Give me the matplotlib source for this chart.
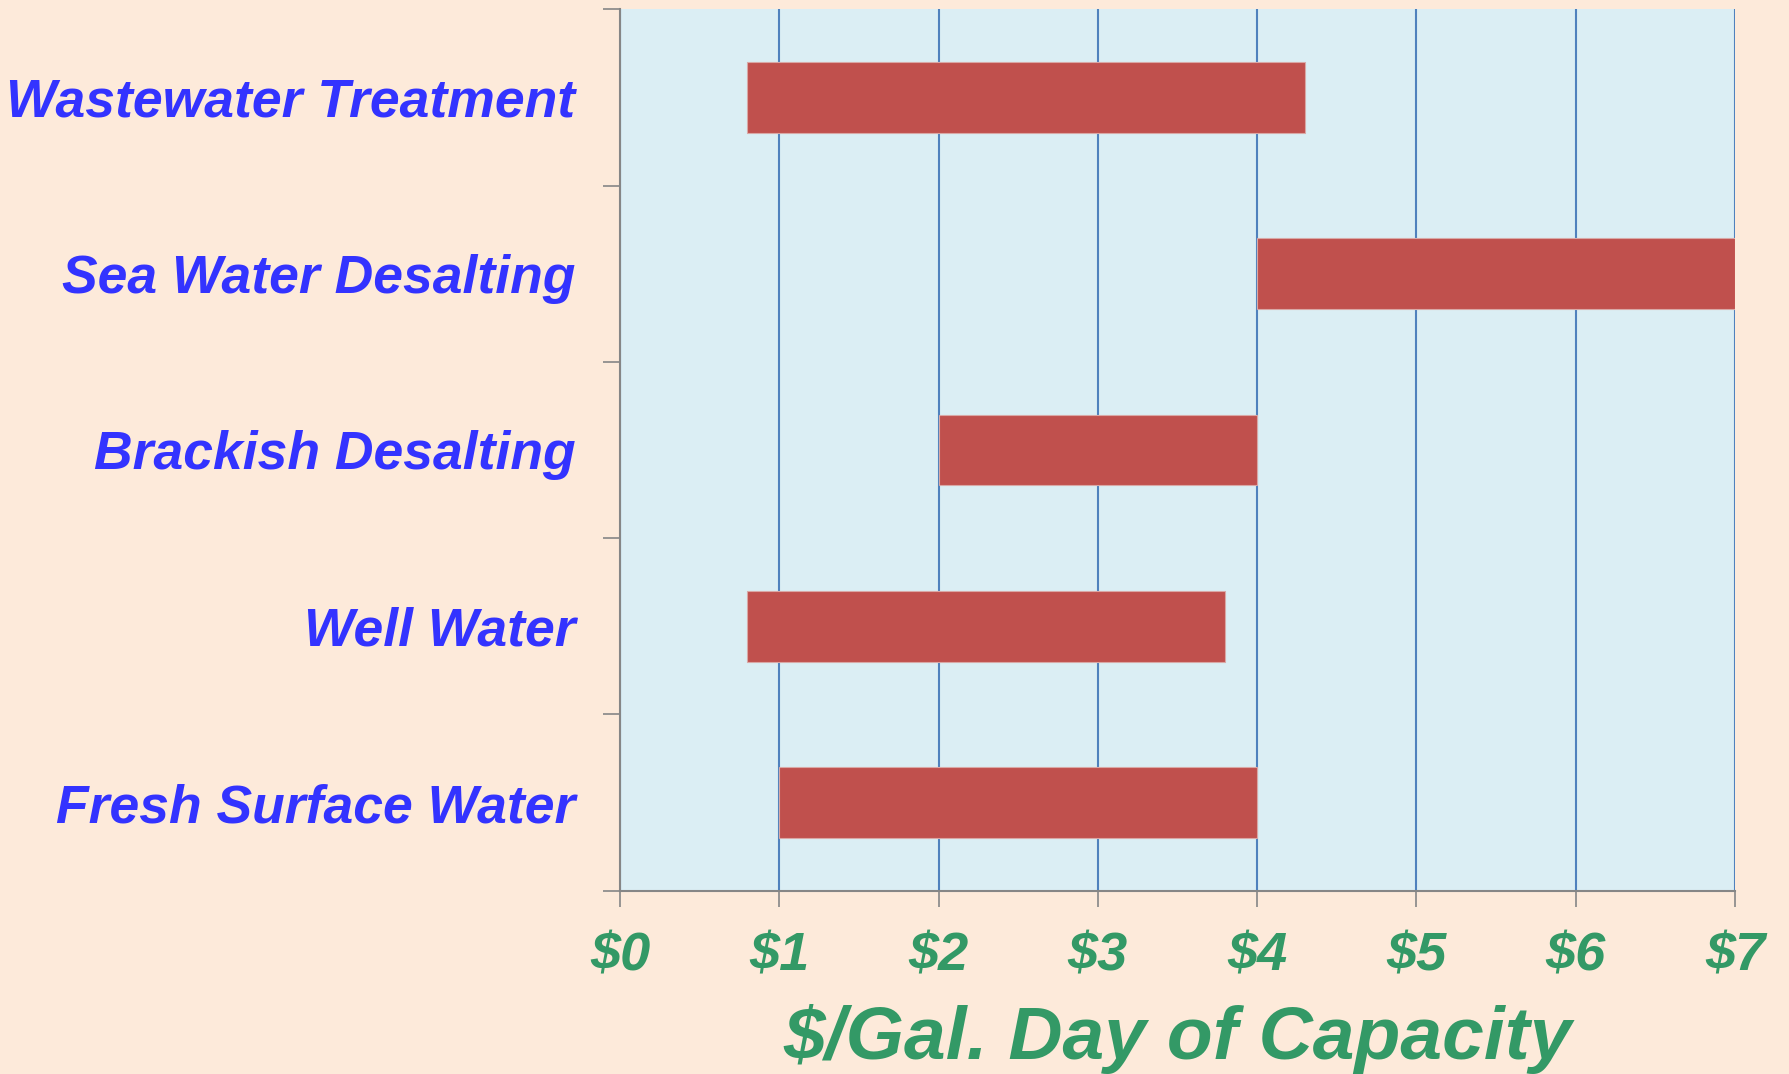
import matplotlib
matplotlib.use("Agg")
import matplotlib.pyplot as plt
import numpy as np

categories = ["Fresh Surface Water", "Well Water", "Brackish Desalting",
              "Sea Water Desalting", "Wastewater Treatment"]
low = [1.0, 0.8, 2.0, 4.0, 0.8]
high = [4.0, 3.8, 4.0, 7.0, 4.3]
xticks = [0, 1, 2, 3, 4, 5, 6, 7]
xticklabels = [r"\$0", r"\$1", r"\$2", r"\$3", r"\$4", r"\$5", r"\$6", r"\$7"]
xlabel = r"\$/Gal. Day of Capacity"

plt.rcParams['font.family'] = ['Liberation Sans', 'DejaVu Sans']

W, H = 1789, 1074
fig = plt.figure(figsize=(W / 100, H / 100), dpi=100, facecolor="#FDEADA")
ax = fig.add_axes([620 / W, 1 - 890.7 / H, 1115 / W, (890.7 - 9.3) / H])
ax.set_facecolor("#DBEEF4")

y = np.arange(len(categories))
widths = [h - l for l, h in zip(low, high)]
ax.barh(y, widths, left=low, height=0.4, color="#C0504D",
        edgecolor="#D9A8A6", linewidth=0.8, zorder=3)

ax.set_xlim(0, 7)
ax.set_ylim(-0.5, len(categories) - 0.5)

ax.set_xticks(xticks)
ax.set_xticklabels(xticklabels, fontsize=39, fontweight="bold",
                   fontstyle="italic", color="#339966")
ax.tick_params(axis="x", length=11.5, width=1.2, color="#868686",
               direction="out", pad=18)

ax.set_yticks(np.arange(-0.5, len(categories), 1.0))
ax.set_yticklabels([])
ax.set_yticks(y, minor=True)
ax.set_yticklabels(categories, minor=True, fontsize=38.5, fontweight="bold",
                   fontstyle="italic", color="#3333FF")
ax.tick_params(axis="y", which="major", length=12, width=1.2,
               color="#868686", direction="out")
ax.tick_params(axis="y", which="minor", length=0, pad=32)

ax.grid(axis="x", color="#4F81BD", linewidth=1.5, zorder=1)
ax.set_axisbelow(True)

for s in ["top", "right"]:
    ax.spines[s].set_visible(False)
for s in ["left", "bottom"]:
    ax.spines[s].set_color("#868686")
    ax.spines[s].set_linewidth(1.5)

ax.set_xlabel(xlabel, fontsize=54, fontweight="bold", fontstyle="italic",
              color="#339966", labelpad=16)

fig.savefig("out.png", dpi=100, facecolor=fig.get_facecolor())
